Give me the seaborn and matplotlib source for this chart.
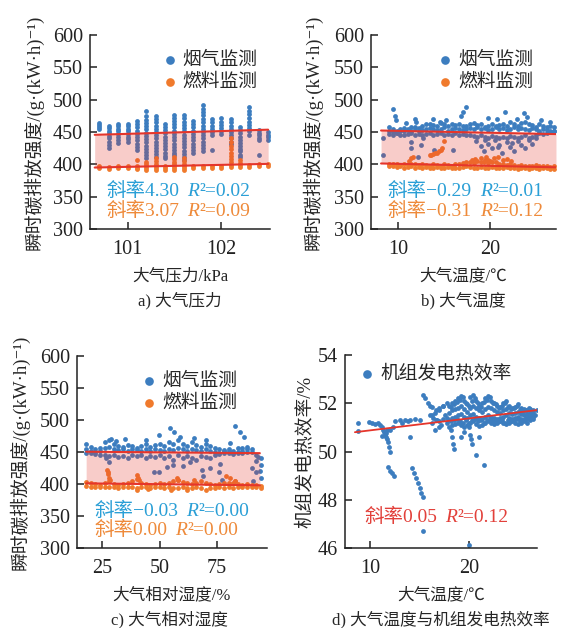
import numpy as np
import pandas as pd
import seaborn as sns
import matplotlib.pyplot as plt

# ---- a) pressure: discrete pressure levels, values per level ----
press_levels = [100.7, 100.8, 100.9, 101.0, 101.1, 101.2, 101.3, 101.4, 101.5, 101.6,
                101.7, 101.8, 101.9, 102.0, 102.1, 102.2, 102.3, 102.4, 102.5]
press_flue = [
    [464, 461, 458, 455],
    [460, 456, 452, 448, 444, 440, 435, 430, 425],
    [463, 459, 455, 451, 447, 443, 438, 433],
    [463, 459, 455, 451, 447, 443, 439, 435],
    [467, 462, 457, 452, 447, 442, 437, 432, 427, 422],
    [482, 474, 469, 464, 459, 454, 449, 444, 439, 434, 429, 424, 419, 414, 409],
    [475, 470, 465, 460, 455, 450, 445, 440, 435, 430, 425, 420, 416, 412],
    [463, 458, 453, 448, 443, 438, 433, 428, 423, 418, 413, 409],
    [477, 472, 467, 462, 457, 452, 447, 442, 437, 432, 427, 422, 418, 414],
    [476, 471, 466, 461, 456, 451, 446, 441, 436, 431, 426, 421, 416, 411, 407],
    [467, 462, 457, 452, 447, 442, 437, 432, 427, 422, 417],
    [491, 486, 481, 476, 470, 465, 460, 455, 450, 445, 440, 435, 430, 425, 420],
    [470, 465, 460, 455, 450, 445, 422],
    [471, 466, 461, 456, 451, 447],
    [470, 465, 460, 455, 450, 445, 440, 435, 432],
    [458, 453, 448, 443, 438, 433, 428, 424, 420, 415, 412],
    [488, 483, 478, 472, 466, 461, 456, 451, 446],
    [453, 449, 445, 441, 438, 414],
    [450, 446, 442, 438],
]
press_fuel = [
    [397, 394], [396, 393], [397, 394], [397, 394],
    [407, 398, 395, 392],
    [404, 400, 397, 394, 391],
    [409, 405, 401, 397, 394, 391],
    [397, 394, 391],
    [412, 408, 404, 400, 397, 394, 391],
    [409, 405, 401, 397, 394, 391],
    [397, 394], [397, 394], [398, 395], [398, 395],
    [440, 434, 428, 423, 418, 413, 408, 403, 399, 396],
    [406, 402, 399, 396],
    [399, 396], [400, 397], [400, 397],
]

# ---- b) air temperature ----
temp_grid = [9.0, 9.4, 9.8, 10.2, 10.6, 11.0, 11.4, 11.8, 12.2, 12.6, 13.0, 13.4, 13.8, 14.2,
             14.6, 15.0, 15.4, 15.8, 16.2, 16.6, 17.0, 17.4, 17.8, 18.2, 18.6, 19.0, 19.4,
             19.8, 20.2, 20.6, 21.0, 21.4, 21.8, 22.2, 22.6, 23.0, 23.4, 23.8, 24.2, 24.6,
             25.0, 25.4, 25.8, 26.2, 26.6, 27.0]
temp_flue_1 = [458, 455, 452, 454, 456, 455, 457, 458, 456, 459, 462, 463, 461, 460, 464, 462,
               460, 463, 461, 462, 459, 460, 462, 464, 461, 463, 458, 460, 462, 459, 461, 463,
               460, 465, 462, 460, 464, 466, 463, 461, 458, 462, 459, 457, 460, 458]
temp_flue_2 = [451, 450, 449, 451, 452, 453, 451, 454, 452, 453, 455, 456, 454, 453, 455, 457,
               452, 454, 456, 455, 453, 454, 456, 455, 457, 454, 456, 453, 455, 457, 454, 456,
               453, 455, 457, 454, 456, 455, 453, 456, 454, 452, 455, 453, 451, 452]
temp_flue_3 = [447, 446, 448, 445, 446, 447, 448, 446, 447, 445, 447, 448, 446, 447, 448, 446,
               447, 445, 448, 446, 447, 445, 446, 444, 442, 445, 443, 441, 444, 442, 440, 443,
               441, 444, 442, 440, 443, 445, 441, 443, 446, 448, 447, 449, 450, 451]
temp_flue_extra_x = [8.3, 8.3, 9.4, 9.6, 9.7, 11.4, 11.4, 11.9, 11.8, 12.5, 12.7, 13.8, 13.9,
                     16.8, 17.0, 17.4, 19.75, 21.6, 23.7, 24.0, 18.5, 19.0, 19.3, 19.8, 20.2,
                     20.5, 21.0, 21.3, 21.8, 22.2, 22.6, 23.0, 23.4, 23.8, 24.2, 24.6, 25.0,
                     15.2, 14.5, 10.8, 22.9, 25.6, 26.5, 20.8, 16.0, 12.1, 19.5, 20.9, 22.4]
temp_flue_extra_y = [440, 414, 486, 474, 469, 435, 425, 466, 470, 430, 440, 470, 422,
                     474, 481, 488, 471, 481, 479, 473, 436, 428, 420, 432, 425,
                     438, 430, 418, 434, 427, 421, 436, 430, 425, 438, 432, 440,
                     468, 466, 464, 470, 469, 465, 470, 422, 412, 437, 426, 433]
temp_fuel_1 = [401, 400, 400, 399, 400, 399, 401, 400, 399, 400, 399, 398, 400, 399, 398, 400,
               399, 398, 400, 401, 402, 403, 404, 402, 405, 403, 406, 402, 404, 403, 401, 400,
               399, 400, 399, 398, 399, 398, 397, 398, 399, 397, 398, 397, 396, 397]
temp_fuel_2 = [398, 397, 396, 397, 395, 396, 397, 395, 396, 395, 396, 395, 394, 396, 395, 394,
               396, 395, 394, 395, 396, 397, 396, 395, 394, 396, 395, 394, 396, 395, 394, 395,
               396, 394, 395, 393, 394, 395, 393, 394, 395, 393, 394, 395, 393, 392]
temp_fuel_extra_x = [13.4, 13.6, 13.8, 14.0, 14.2, 14.4, 14.6, 14.8, 15.0, 11.2, 11.4, 11.6,
                     18.0, 18.4, 19.0, 19.3, 19.6, 19.8, 20.0, 20.4, 20.9, 21.4, 21.8, 22.3]
temp_fuel_extra_y = [414, 415, 416, 417, 418, 420, 422, 425, 436, 405, 410, 412,
                     406, 408, 410, 404, 412, 407, 405, 409, 411, 406, 408, 405]

# ---- c) relative humidity ----
hum_grid = [18, 20, 22, 24, 26, 28, 30, 32, 34, 36, 38, 40, 42, 44, 46, 48, 50, 52, 54, 56,
            58, 60, 62, 64, 66, 68, 70, 72, 74, 76, 78, 80, 82, 84, 86, 88, 90, 92, 94]
hum_flue_1 = [462, 458, 455, 457, 466, 468, 463, 460, 458, 461, 459, 457, 460, 462, 458, 461,
              463, 460, 466, 462, 468, 463, 460, 465, 461, 458, 462, 459, 457, 455, 453, 455,
              452, 457, 456, 458, 455, 445, 440]
hum_flue_2 = [455, 452, 450, 451, 456, 458, 455, 453, 454, 452, 455, 453, 451, 454, 452, 455,
              453, 451, 455, 453, 456, 454, 452, 455, 453, 451, 454, 452, 450, 449, 452, 451,
              449, 450, 452, 455, 450, 436, 430]
hum_flue_3 = [449, 448, 447, 446, 445, 443, 446, 442, 444, 441, 446, 443, 445, 440, 444, 442,
              446, 441, 443, 438, 445, 440, 443, 441, 438, 444, 442, 440, 445, 447, 449, 448,
              447, 449, 448, 450, 425, 418, 410]
hum_flue_extra_x = [54.7, 56.3, 59, 49.6, 83, 85, 86.5, 80.5, 47.5, 49.5, 53, 56, 68.5, 69,
                    76.4, 77, 76, 28, 26.5, 63, 60, 72, 90.5, 93, 93.5, 35, 44, 65, 70, 29, 31]
hum_flue_extra_y = [487, 482, 474, 477, 490, 482, 474, 464, 419, 419, 427, 430, 422, 412,
                    432, 406, 418, 435, 440, 435, 428, 425, 404, 442, 420, 470, 468, 472, 469,
                    471, 467]
hum_fuel_1 = [403, 402, 400, 399, 401, 404, 400, 399, 400, 401, 405, 408, 402, 400, 399, 400,
              401, 400, 402, 404, 406, 403, 401, 400, 402, 404, 401, 400, 399, 400, 401, 402,
              401, 400, 399, 400, 399, 398, 397]
hum_fuel_2 = [397, 396, 395, 396, 395, 396, 395, 394, 395, 396, 395, 394, 395, 396, 394, 395,
              396, 394, 395, 393, 394, 395, 394, 393, 395, 394, 391, 393, 394, 395, 394, 395,
              394, 395, 396, 395, 396, 395, 394]
hum_fuel_extra_x = [27, 27.5, 28, 28.5, 27.3, 40, 40.5, 41, 57.6, 58, 65, 80.5, 82.6, 83,
                    40, 62, 55, 79, 45]
hum_fuel_extra_y = [422, 416, 410, 406, 419, 414, 410, 406, 409, 407, 406, 409, 404, 405,
                    391, 390, 391, 412, 392]

# ---- d) temperature vs generating efficiency ----
eff_grid = [18.0, 18.3, 18.6, 18.9, 19.2, 19.5, 19.8, 20.1, 20.4, 20.7, 21.0, 21.3, 21.6,
            21.9, 22.2, 22.5, 22.8, 23.1, 23.4, 23.7, 24.0, 24.3, 24.6, 24.9, 25.2, 25.5,
            25.8, 26.1, 26.4]
eff_row_1 = [51.9, 52.0, 52.1, 52.2, 52.3, 52.1, 51.95, 52.25, 52.35, 52.1, 51.9, 52.0, 52.2,
             52.3, 52.1, 52.0, 51.9, 51.85, 52.0, 52.1, 51.9, 51.8, 51.85, 51.95, 51.8, 51.75,
             51.7, 51.75, 51.7]
eff_row_2 = [51.6, 51.7, 51.75, 51.8, 51.9, 51.75, 51.65, 51.8, 51.9, 51.8, 51.7, 51.65, 51.75,
             51.85, 51.8, 51.7, 51.65, 51.6, 51.7, 51.75, 51.6, 51.55, 51.6, 51.65, 51.55, 51.5,
             51.55, 51.6, 51.65]
eff_row_3 = [51.3, 51.4, 51.45, 51.5, 51.55, 51.45, 51.4, 51.5, 51.55, 51.45, 51.4, 51.35,
             51.45, 51.5, 51.45, 51.4, 51.35, 51.4, 51.45, 51.5, 51.4, 51.35, 51.4, 51.45,
             51.35, 51.3, 51.35, 51.4, 51.45]
eff_row_4 = [51.0, 51.1, 51.15, 51.2, 51.1, 51.0, 51.1, 51.2, 51.25, 51.15, 51.05, 51.1, 51.2,
             51.25, 51.2, 51.15, 51.2, 51.25, 51.2, 51.15, 51.2, 51.25, 51.2, 51.15, 51.2,
             51.25, 51.2, 51.3, 51.35]
eff_grid_b = [16.2, 16.6, 17.0, 17.4, 17.8, 18.15, 18.45, 18.75, 19.05, 19.35, 19.65, 19.95,
              20.25, 20.55, 20.85, 21.15, 21.45, 21.75, 22.05, 22.35, 22.65, 22.95, 23.25,
              23.55, 23.85, 24.15, 24.45, 24.75, 25.05, 25.35, 25.65, 25.95, 26.25]
eff_row_5 = [51.5, 51.7, 51.8, 51.9, 52.0, 51.85, 51.95, 52.05, 52.15, 52.25, 52.0, 51.9, 52.1,
             52.2, 52.0, 51.85, 52.05, 52.15, 52.25, 52.0, 51.95, 51.8, 51.9, 52.0, 51.85,
             51.75, 51.8, 51.9, 51.7, 51.65, 51.7, 51.8, 51.65]
eff_row_6 = [51.2, 51.3, 51.25, 51.35, 51.4, 51.25, 51.3, 51.35, 51.25, 51.2, 51.3, 51.2, 51.3,
             51.35, 51.25, 51.3, 51.2, 51.3, 51.35, 51.25, 51.3, 51.25, 51.3, 51.2, 51.3,
             51.25, 51.3, 51.35, 51.25, 51.3, 51.4, 51.45, 51.5]
eff_extra_x = [8.8, 8.8, 9.9, 10.2, 10.5, 10.8, 11.0, 11.2, 11.3, 11.4, 11.5, 11.6, 11.7, 11.8,
               11.9, 12.0, 11.6, 11.2, 11.7, 12.0, 12.3, 11.8, 12.0, 12.2, 12.4, 14.2, 14.4,
               14.6, 14.8, 15.0, 15.1, 15.3, 15.3, 12.5, 13.0, 13.5, 14.0, 14.5, 15.0, 13.2,
               13.8, 14.0, 15.3, 15.5, 15.8, 16.0, 16.2, 16.0, 16.3, 16.5, 16.8, 17.0, 17.2,
               17.4, 17.6, 17.8, 17.0, 16.5, 20.0, 20.1, 20.2, 20.3, 18.2, 18.3, 18.4, 18.5,
               20.7, 21.5, 20.0, 19.2, 19.5, 21.0, 26.8, 26.6]
eff_extra_y = [51.17, 50.83, 51.24, 51.2, 51.15, 51.2, 51.1, 51.0, 50.9, 50.8, 50.7, 50.6,
               50.5, 50.4, 50.2, 50.0, 50.75, 50.65, 50.9, 50.9, 51.0, 49.35, 49.2, 49.1,
               49.0, 49.3, 49.1, 48.9, 48.7, 48.5, 48.3, 48.1, 46.7, 51.25, 51.3, 51.3, 51.3,
               51.35, 51.3, 51.2, 51.25, 50.6, 52.35, 52.2, 52.0, 51.9, 51.85, 51.5, 51.4,
               51.6, 51.3, 51.7, 51.1, 51.9, 51.5, 51.2, 51.0, 50.9, 51.0, 50.7, 50.5, 50.3,
               50.9, 50.6, 50.3, 50.1, 49.86, 49.45, 46.13, 50.6, 50.8, 50.6, 51.7, 51.5]

# fitted lines: (slope, intercept, x start, x end)
fit_press_flue = (4.30, 12.8, 100.65, 102.5)
fit_press_fuel = (3.07, 86.0, 100.65, 102.5)
fit_temp_flue = (-0.29, 454.6, 8.1, 27.2)
fit_temp_fuel = (-0.31, 403.8, 8.1, 27.2)
fit_hum_flue = (-0.03, 451.0, 18.0, 93.6)
fit_hum_fuel = (-0.04, 401.7, 18.0, 93.6)
fit_eff = (0.05, 50.375, 8.5, 27.0)

BLUE = "#3C7DBF"
ORANGE = "#F07A2C"
RED = "#E5352B"
TXT_BLUE = "#2A9FD6"
TXT_ORANGE = "#EE8A3A"
TXT_RED = "#E2403A"

sns.set_theme(style="ticks")
plt.rcParams["font.family"] = ["Liberation Serif", "Noto Sans CJK SC", "DejaVu Serif"]
plt.rcParams["axes.unicode_minus"] = True


def stack(xs_list, ys_list):
    return pd.DataFrame({"x": np.concatenate([np.asarray(v, float) for v in xs_list]),
                         "y": np.concatenate([np.asarray(v, float) for v in ys_list])})


def levels_frame(levels, by_level):
    xs = [[p] * len(v) for p, v in zip(levels, by_level)]
    return stack(xs, by_level)


def fit_xy(fit):
    k, b, x0, x1 = fit
    xx = np.array([x0, x1])
    return xx, b + k * xx


def slope_text(ax, x, y, head, tail, color):
    # "斜率k  R²=v" with an italic R
    t1 = ax.text(x, y, head, color=color, fontsize=14, transform=ax.transAxes,
                 va="center", ha="left", zorder=5)
    t2 = ax.annotate("R", xy=(1, 0), xycoords=t1, xytext=(6, 0),
                     textcoords="offset points", color=color, fontsize=14,
                     style="italic", va="bottom", ha="left", zorder=5)
    ax.annotate(tail, xy=(1, 0), xycoords=t2, color=color, fontsize=14,
                va="bottom", ha="left", zorder=5)


def style_axes(ax):
    sns.despine(ax=ax)
    for s in ["left", "bottom"]:
        ax.spines[s].set_linewidth(1.1)
        ax.spines[s].set_color("#222222")
    ax.tick_params(direction="in", length=5, width=1.1, labelsize=14.5, colors="#222222")
    ax.tick_params(axis="x", pad=8)
    ax.tick_params(axis="y", pad=5)


def band_panel(ax, flue, fuel, fit_flue, fit_fuel, legend_x, slopes):
    sns.scatterplot(data=flue, x="x", y="y", color=BLUE, s=12, linewidth=0,
                    ax=ax, label="烟气监测", zorder=2)
    sns.scatterplot(data=fuel, x="x", y="y", color=ORANGE, s=12, linewidth=0,
                    ax=ax, label="燃料监测", zorder=2)
    xx, y_top = fit_xy(fit_flue)
    _, y_bot = fit_xy(fit_fuel)
    ax.fill_between(xx, y_bot, y_top, color=RED, alpha=0.25, linewidth=0, zorder=3)
    ax.plot(xx, y_top, color=RED, lw=1.5, zorder=4)
    ax.plot(xx, y_bot, color=RED, lw=1.5, zorder=4)
    ax.set_ylim(300, 600)
    ax.set_yticks([300, 350, 400, 450, 500, 550, 600])
    ax.set_ylabel("瞬时碳排放强度/(g·(kW·h)⁻¹)", fontsize=13.5)
    ax.legend(loc="upper left", bbox_to_anchor=(legend_x, 0.915), frameon=False,
              fontsize=13.5, markerscale=1.8, handlelength=0.8, handletextpad=0.3,
              labelspacing=0.25, borderaxespad=0, borderpad=0)
    for (head, tail, col), yy in zip(slopes, [0.195, 0.095]):
        slope_text(ax, 0.09, yy, head, tail, col)
    style_axes(ax)


fig = plt.figure(figsize=(5.74, 6.28), dpi=100)
ax_a = fig.add_axes([0.1568, 0.6354, 0.3136, 0.3089])
ax_b = fig.add_axes([0.6463, 0.6354, 0.3223, 0.3089])
ax_c = fig.add_axes([0.1341, 0.1274, 0.3310, 0.3057])
ax_d = fig.add_axes([0.6010, 0.1274, 0.3345, 0.3073])

# a
band_panel(ax_a, levels_frame(press_levels, press_flue), levels_frame(press_levels, press_fuel),
           fit_press_flue, fit_press_fuel, 0.40,
           [("斜率4.30", "²=0.02", TXT_BLUE), ("斜率3.07", "²=0.09", TXT_ORANGE)])
ax_a.set_xlim(100.6, 102.52)
ax_a.set_xticks([101, 102])
ax_a.set_xlabel("大气压力/kPa", fontsize=12)

# b
band_panel(ax_b,
           stack([temp_grid] * 3 + [temp_flue_extra_x],
                 [temp_flue_1, temp_flue_2, temp_flue_3, temp_flue_extra_y]),
           stack([temp_grid] * 2 + [temp_fuel_extra_x],
                 [temp_fuel_1, temp_fuel_2, temp_fuel_extra_y]),
           fit_temp_flue, fit_temp_fuel, 0.36,
           [("斜率−0.29", "²=0.01", TXT_BLUE), ("斜率−0.31", "²=0.12", TXT_ORANGE)])
ax_b.set_xlim(7.0, 27.2)
ax_b.set_xticks([10, 20])
ax_b.set_xlabel("大气温度/℃", fontsize=12)

# c
band_panel(ax_c,
           stack([hum_grid] * 3 + [hum_flue_extra_x],
                 [hum_flue_1, hum_flue_2, hum_flue_3, hum_flue_extra_y]),
           stack([hum_grid] * 2 + [hum_fuel_extra_x],
                 [hum_fuel_1, hum_fuel_2, hum_fuel_extra_y]),
           fit_hum_flue, fit_hum_fuel, 0.34,
           [("斜率−0.03", "²=0.00", TXT_BLUE), ("斜率0.00", "²=0.00", TXT_ORANGE)])
ax_c.set_xlim(14, 96.7)
ax_c.set_xticks([25, 50, 75])
ax_c.set_xlabel("大气相对湿度/%", fontsize=12)

# d
eff_df = stack([eff_grid] * 4 + [eff_grid_b] * 2 + [eff_extra_x],
               [eff_row_1, eff_row_2, eff_row_3, eff_row_4, eff_row_5, eff_row_6, eff_extra_y])
sns.scatterplot(data=eff_df, x="x", y="y", color=BLUE, s=12, linewidth=0, ax=ax_d,
                label="机组发电热效率", zorder=2)
xx, yy = fit_xy(fit_eff)
ax_d.plot(xx, yy, color=RED, lw=1.3, zorder=4)
ax_d.set_xlim(7.5, 26.8)
ax_d.set_ylim(46, 54)
ax_d.set_xticks([10, 20])
ax_d.set_yticks([46, 48, 50, 52, 54])
ax_d.set_xlabel("大气温度/℃", fontsize=12)
ax_d.set_ylabel("机组发电热效率/%", fontsize=13.5)
ax_d.legend(loc="upper left", bbox_to_anchor=(0.075, 0.95), frameon=False, fontsize=13.5,
            markerscale=1.8, handlelength=0.8, handletextpad=0.3, borderaxespad=0,
            borderpad=0)
slope_text(ax_d, 0.10, 0.16, "斜率0.05", "²=0.12", TXT_RED)
style_axes(ax_d)

for ax in [ax_a, ax_b, ax_c, ax_d]:
    ax.xaxis.set_label_coords(0.5, -0.205)

ax_a.yaxis.set_label_coords(-0.255, 0.5)
ax_b.yaxis.set_label_coords(-0.26, 0.5)
ax_c.yaxis.set_label_coords(-0.25, 0.5)
ax_d.yaxis.set_label_coords(-0.165, 0.5)

fig.text(0.3136, 0.5207, "a) 大气压力", ha="center", va="center", fontsize=12)
fig.text(0.808, 0.5207, "b) 大气温度", ha="center", va="center", fontsize=12)
fig.text(0.296, 0.0135, "c) 大气相对湿度", ha="center", va="center", fontsize=12)
fig.text(0.768, 0.0135, "d) 大气温度与机组发电热效率", ha="center", va="center", fontsize=12)

fig.savefig("out.png", dpi=100)
